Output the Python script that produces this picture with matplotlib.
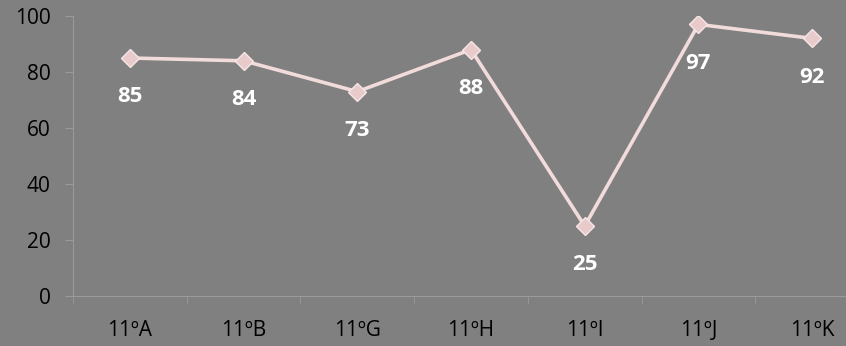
import matplotlib
matplotlib.use("Agg")
import matplotlib.pyplot as plt
import numpy as np

classes = ["11ºA", "11ºB", "11ºG", "11ºH", "11ºI", "11ºJ", "11ºK"]
values = [85, 84, 73, 88, 25, 97, 92]
yticks = [0, 20, 40, 60, 80, 100]

plt.rcParams.update({
    "font.family": ["Open Sans", "DejaVu Sans"],
    "font.size": 15,
})

bg = "#808080"
axis_col = "#9a9a9a"

fig = plt.figure(figsize=(8.46, 3.46), dpi=100, facecolor=bg)
ax = fig.add_axes([73 / 846, 50 / 346, 796 / 846, 280 / 346])
ax.set_facecolor(bg)

x = np.arange(len(classes))
ax.plot(x, values, color="#f2dcdb", lw=2.6, zorder=2)
ax.plot(x, values, linestyle="none", marker="D", markersize=9,
        markerfacecolor="#e8caca", markeredgecolor="#f6e6e6",
        markeredgewidth=1.0, zorder=3)

# value labels sit below each point
for xi, v in zip(x, values):
    ax.annotate(str(v), (xi, v), xytext=(0, -28), textcoords="offset points",
                ha="center", va="center", color="white",
                fontweight="bold", fontsize=16)

ax.set_xlim(-0.5, len(classes) - 0.5)
ax.set_ylim(0, 100)
ax.set_yticks(yticks)
ax.set_xticks(x)
ax.set_xticklabels(classes)
ax.set_xticks(np.arange(-0.5, len(classes), 1), minor=True)

for s in ["top", "right"]:
    ax.spines[s].set_visible(False)
for s in ["left", "bottom"]:
    ax.spines[s].set_color(axis_col)
    ax.spines[s].set_linewidth(0.8)

ax.tick_params(axis="x", which="major", length=0, pad=17, colors="black")
ax.tick_params(axis="x", which="minor", length=6, color=axis_col, direction="out")
ax.tick_params(axis="y", length=6, color=axis_col, pad=10, labelcolor="black")
ax.tick_params(axis="x", labelcolor="black")

fig.savefig("out.png", dpi=100, facecolor=bg)
